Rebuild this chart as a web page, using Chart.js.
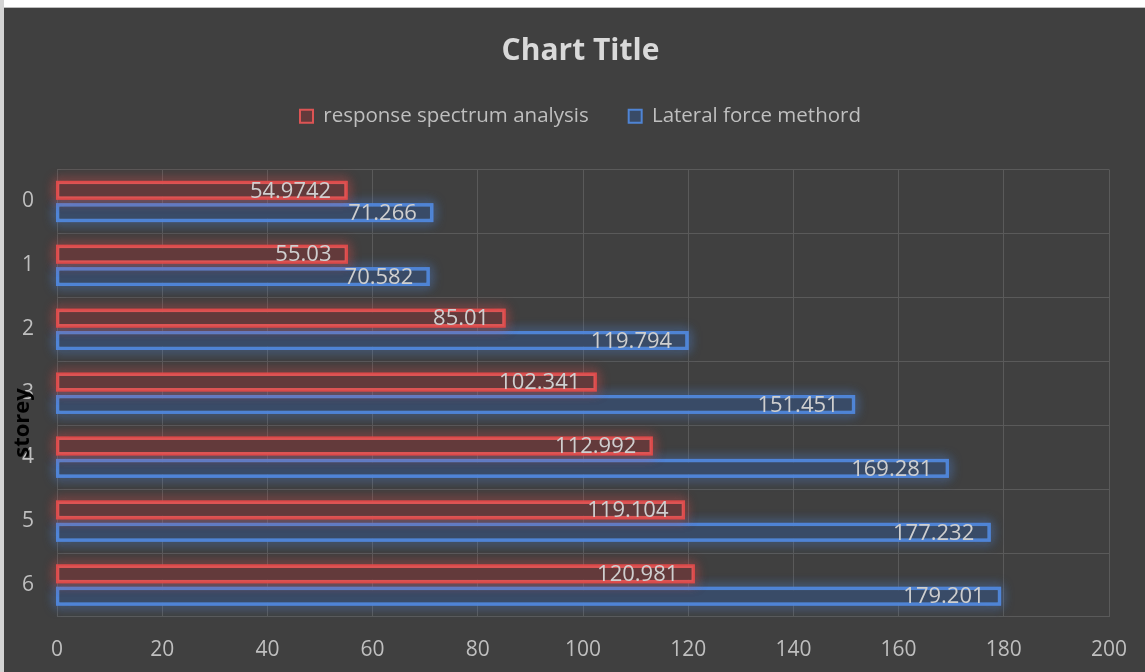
<!DOCTYPE html>
<html>
<head>
<meta charset="utf-8">
<script src="https://cdn.jsdelivr.net/npm/chart.js@4.4.1/dist/chart.umd.min.js"></script>
<style>
  html, body { margin: 0; padding: 0; background: #ffffff; width: 1145px; height: 672px; overflow: hidden; }
  #edge { position: absolute; left: 0; top: 0; width: 4px; height: 672px; background: #d4d4d4; }
  #wrap { position: absolute; left: 4px; top: 7px; width: 1141px; height: 665px; background: #404040; border-top: 1px solid #bdbdbd; box-sizing: border-box; }
  canvas { display: block; }
</style>
</head>
<body>
<div id="edge"></div>
<div id="wrap"><canvas id="c" width="1141" height="664"></canvas></div>
<script>
// Storey levels and the two base-shear series
const storeys = ['0', '1', '2', '3', '4', '5', '6'];
const responseSpectrum = [54.9742, 55.03, 85.01, 102.341, 112.992, 119.104, 120.981];
const lateralForce = [71.266, 70.582, 119.794, 151.451, 169.281, 177.232, 179.201];
const seriesNames = ['response spectrum analysis', 'Lateral force methord'];
const xTicks = [0, 20, 40, 60, 80, 100, 120, 140, 160, 180, 200];

const FONT = '"Open Sans", "Noto Sans", sans-serif';
const TEXT = '#bfbfbf';

// Soft coloured glow behind each bar
const glowPlugin = {
  id: 'glow',
  beforeDatasetDraw(chart, args) {
    const ds = chart.data.datasets[args.index];
    const meta = args.meta;
    const ctx = chart.ctx;
    ctx.save();
    ctx.shadowColor = ds.glowColor;
    ctx.shadowBlur = 12;
    ctx.strokeStyle = ds.glowColor;
    ctx.lineWidth = 3;
    for (let pass = 0; pass < 2; pass++) {
      meta.data.forEach(bar => {
        const x0 = Math.min(bar.base, bar.x), x1 = Math.max(bar.base, bar.x);
        const h = bar.height;
        ctx.strokeRect(x0, bar.y - h / 2, x1 - x0, h);
      });
    }
    ctx.restore();
  }
};

// Value labels placed inside the end of each bar
const valueLabels = {
  id: 'valueLabels',
  afterDatasetsDraw(chart) {
    const ctx = chart.ctx;
    ctx.save();
    ctx.font = '22px ' + FONT;
    ctx.fillStyle = '#cfcfcf';
    ctx.textAlign = 'right';
    ctx.textBaseline = 'middle';
    chart.data.datasets.forEach((ds, i) => {
      chart.getDatasetMeta(i).data.forEach((bar, j) => {
        ctx.fillText(String(ds.data[j]), bar.x - 15, bar.y + 1);
      });
    });
    ctx.restore();
  }
};

// Axis title drawn beside the category labels
const axisTitle = {
  id: 'axisTitle',
  afterDraw(chart) {
    const ctx = chart.ctx;
    ctx.save();
    ctx.translate(19, 415);
    ctx.rotate(-Math.PI / 2);
    ctx.font = 'bold 22px ' + FONT;
    ctx.fillStyle = '#000000';
    ctx.textAlign = 'center';
    ctx.textBaseline = 'middle';
    ctx.fillText('storey', 0, 0);
    ctx.restore();
  }
};

// Spacing between the legend row and the plot
const legendGap = {
  id: 'legendGap',
  beforeInit(chart) {
    const fit = chart.legend.fit;
    chart.legend.fit = function () {
      fit.call(this);
      this.height += 33;
    };
  }
};

new Chart(document.getElementById('c'), {
  type: 'bar',
  data: {
    labels: storeys,
    datasets: [
      {
        label: seriesNames[0],
        data: responseSpectrum,
        backgroundColor: '#633a3b',
        borderColor: '#dc5454',
        glowColor: 'rgba(225,75,75,0.8)',
        borderWidth: 2,
        borderSkipped: false,
        categoryPercentage: 0.70,
        barPercentage: 0.71
      },
      {
        label: seriesNames[1],
        data: lateralForce,
        backgroundColor: '#394b67',
        borderColor: '#4f84d4',
        glowColor: 'rgba(80,135,220,0.8)',
        borderWidth: 2,
        borderSkipped: false,
        categoryPercentage: 0.70,
        barPercentage: 0.71
      }
    ]
  },
  options: {
    indexAxis: 'y',
    responsive: false,
    animation: false,
    layout: { padding: { left: 12, right: 0, top: 0, bottom: 10 } },
    plugins: {
      title: {
        display: true,
        text: 'Chart Title',
        color: '#d9d9d9',
        font: { family: FONT, size: 30, weight: 'bold' },
        padding: { top: 25, bottom: -3 }
      },
      legend: {
        display: true,
        position: 'top',
        labels: {
          color: TEXT,
          font: { family: FONT, size: 20.5 },
          boxWidth: 13,
          boxHeight: 13,
          padding: 40
        }
      },
      tooltip: { enabled: false }
    },
    scales: {
      x: {
        type: 'linear',
        min: 0,
        max: 200,
        afterBuildTicks(scale) { scale.ticks = xTicks.map(v => ({ value: v })); },
        grid: { color: '#5a5a5a', lineWidth: 1, drawTicks: false },
        border: { display: false },
        ticks: { color: TEXT, font: { family: FONT, size: 21 }, padding: 20 },
        afterFit(scale) { scale.height = 45; scale.paddingRight = 36; }
      },
      y: {
        grid: { color: '#5a5a5a', lineWidth: 1, drawTicks: false, offset: true },
        border: { display: false },
        ticks: { color: TEXT, font: { family: FONT, size: 21 }, padding: 23 },
        afterFit(scale) { scale.width = 41; }
      }
    }
  },
  plugins: [legendGap, glowPlugin, valueLabels, axisTitle]
});
</script>
</body>
</html>
